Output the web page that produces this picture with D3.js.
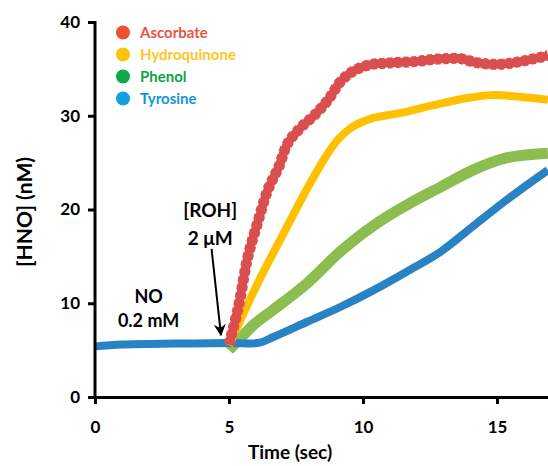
<!DOCTYPE html>
<html>
<head>
<meta charset="utf-8">
<script src="https://cdn.jsdelivr.net/npm/d3@7"></script>
<style>
  body { margin: 0; background: #fff; }
  svg { display: block; font-family: Lato, "Open Sans", sans-serif; }
</style>
</head>
<body>
<svg id="chart" width="548" height="466"></svg>
<script>
// series: time (sec) and [HNO] (nM)
const ascorbateT = [5.0, 5.35, 5.7, 6.1, 6.45, 6.85, 7.2, 7.7, 8.2, 8.7, 9.15, 9.6, 10.2, 10.8, 11.4, 12.0, 12.6, 13.2, 13.6, 14.2, 14.7, 15.1, 15.5, 15.9, 16.4, 16.9];
const ascorbateV = [5.6, 9.6, 14.9, 18.9, 22.1, 24.5, 27.1, 28.8, 30.1, 31.7, 33.6, 34.7, 35.4, 35.6, 35.7, 35.8, 36.0, 36.1, 36.1, 35.7, 35.5, 35.5, 35.6, 35.8, 36.1, 36.4];

const hydroquinoneT = [5.0, 6.1, 7.1, 7.95, 8.6, 9.05, 9.6, 10.3, 11.4, 12.6, 13.9, 14.85, 15.9, 16.9];
const hydroquinoneV = [5.5, 12.3, 17.8, 22.4, 25.6, 27.4, 28.8, 29.7, 30.3, 31.1, 31.9, 32.2, 32.0, 31.7];

const phenolT = [5.0, 6.0, 6.65, 7.9, 9.15, 10.4, 11.65, 12.9, 14.1, 15.35, 16.9];
const phenolV = [5.0, 7.9, 9.3, 12.1, 15.5, 18.3, 20.5, 22.4, 24.2, 25.5, 26.0];

const tyrosineT = [0, 1, 3, 5, 6.15, 6.65, 7.9, 9.15, 10.4, 11.65, 12.9, 14.1, 15.35, 16.9];
const tyrosineV = [5.4, 5.6, 5.7, 5.75, 5.8, 6.4, 8.0, 9.6, 11.4, 13.4, 15.5, 18.2, 21.0, 24.2];

const seriesNames = ["Ascorbate", "Hydroquinone", "Phenol", "Tyrosine"];
const legendDotColors = ["#f0502f", "#ffc20e", "#0fa84a", "#12a0e0"];
const legendTextColors = ["#e8553f", "#ffc525", "#0ea34a", "#1496d6"];
const lineColors = ["#db4e4e", "#ffc000", "#8dbd4f", "#2882c4"];
const lineWidths = [9, 8, 11, 8];

const xTicks = [0, 5, 10, 15];
const yTicks = [0, 10, 20, 30, 40];

// annotations in data units
const noLabel = ["NO", "0.2 mM"];
const rohLabel = ["[ROH]", "2 \u03bcM"];
const arrowFrom = [4.35, 15.8];
const arrowTo = [4.7, 6.6];

var svg = d3.select("svg#chart");

const x = d3.scaleLinear().domain([0, 17]).range([95, 95 + 17 * 26.8]);
const y = d3.scaleLinear().domain([0, 40]).range([397, 22]);

var series = [
    {name: seriesNames[0], t: ascorbateT, v: ascorbateV},
    {name: seriesNames[1], t: hydroquinoneT, v: hydroquinoneV},
    {name: seriesNames[2], t: phenolT, v: phenolV},
    {name: seriesNames[3], t: tyrosineT, v: tyrosineV},
];

const line = d3.line()
    .x(d => x(d[0]))
    .y(d => y(d[1]))
    .curve(d3.curveCatmullRom.alpha(0.5));

// drawing order: phenol, tyrosine, hydroquinone, ascorbate on top
[2, 3, 1, 0].forEach(function(i) {
    var s = series[i];
    var pts = s.t.map((t, k) => [t, s.v[k]]);
    svg.append("path")
        .datum(pts)
        .attr("fill", "none")
        .attr("stroke", lineColors[i])
        .attr("stroke-width", lineWidths[i])
        .attr("stroke-linejoin", "round")
        .attr("d", line);
    if (i == 0) {
        // square markers give the ascorbate trace a toothed edge
        svg.append("path")
            .datum(pts)
            .attr("fill", "none")
            .attr("stroke", lineColors[i])
            .attr("stroke-width", 11)
            .attr("stroke-dasharray", "5,3")
            .attr("d", line);
    }
});

// axes
var yAxis = svg.append("g")
    .attr("transform", "translate(" + x(0) + ",0)")
    .call(d3.axisLeft(y).tickValues(yTicks).tickSize(7).tickSizeOuter(0).tickPadding(8));
var xAxis = svg.append("g")
    .attr("transform", "translate(0," + y(0) + ")")
    .call(d3.axisBottom(x).tickValues(xTicks).tickSize(7).tickSizeOuter(0).tickPadding(17));

[xAxis, yAxis].forEach(function(a) {
    a.select(".domain").attr("stroke", "#000").attr("stroke-width", 3);
    a.selectAll(".tick line").attr("stroke", "#000").attr("stroke-width", 3);
    a.selectAll(".tick text")
        .attr("fill", "#000")
        .style("font-size", "17px")
        .style("font-weight", "bold")
        .style("font-family", "Lato, sans-serif");
});
yAxis.select(".domain").attr("d", "M0," + (y(40) - 1) + "V" + (y(0) + 2));

svg.append("text")
    .attr("x", 290)
    .attr("y", 459)
    .attr("text-anchor", "middle")
    .style("font-size", "19px")
    .style("font-weight", "bold")
    .text("Time (sec)");

svg.append("text")
    .attr("transform", "translate(32,212) rotate(-90)")
    .attr("text-anchor", "middle")
    .style("font-size", "21px")
    .style("font-weight", "bold")
    .text("[HNO] (nM)");

// legend
var legend = svg.append("g");
seriesNames.forEach(function(name, i) {
    var g = legend.append("g").attr("transform", "translate(123," + (32.5 + i * 22) + ")");
    g.append("circle").attr("r", 7).attr("fill", legendDotColors[i]);
    g.append("text")
        .attr("x", 17)
        .attr("dy", "0.35em")
        .attr("fill", legendTextColors[i])
        .style("font-size", "15px")
        .style("font-weight", "bold")
        .text(name);
});

// annotations
noLabel.forEach(function(txt, i) {
    svg.append("text")
        .attr("x", x(2.0))
        .attr("y", 303 + i * 24)
        .attr("text-anchor", "middle")
        .style("font-size", "18px")
        .style("font-weight", "bold")
        .text(txt);
});
rohLabel.forEach(function(txt, i) {
    svg.append("text")
        .attr("x", x(4.3))
        .attr("y", 217 + i * 28)
        .attr("text-anchor", "middle")
        .style("font-size", "19px")
        .style("font-weight", "bold")
        .text(txt);
});

svg.append("defs").append("marker")
    .attr("id", "arrowhead")
    .attr("viewBox", "0 0 10 10")
    .attr("refX", 9).attr("refY", 5)
    .attr("markerWidth", 6).attr("markerHeight", 6)
    .attr("orient", "auto")
    .append("path")
    .attr("d", "M0,0 L10,5 L0,10 L3,5 Z")
    .attr("fill", "#000");

svg.append("line")
    .attr("x1", x(arrowFrom[0])).attr("y1", y(arrowFrom[1]))
    .attr("x2", x(arrowTo[0])).attr("y2", y(arrowTo[1]))
    .attr("stroke", "#000")
    .attr("stroke-width", 2)
    .attr("marker-end", "url(#arrowhead)");
</script>
</body>
</html>
